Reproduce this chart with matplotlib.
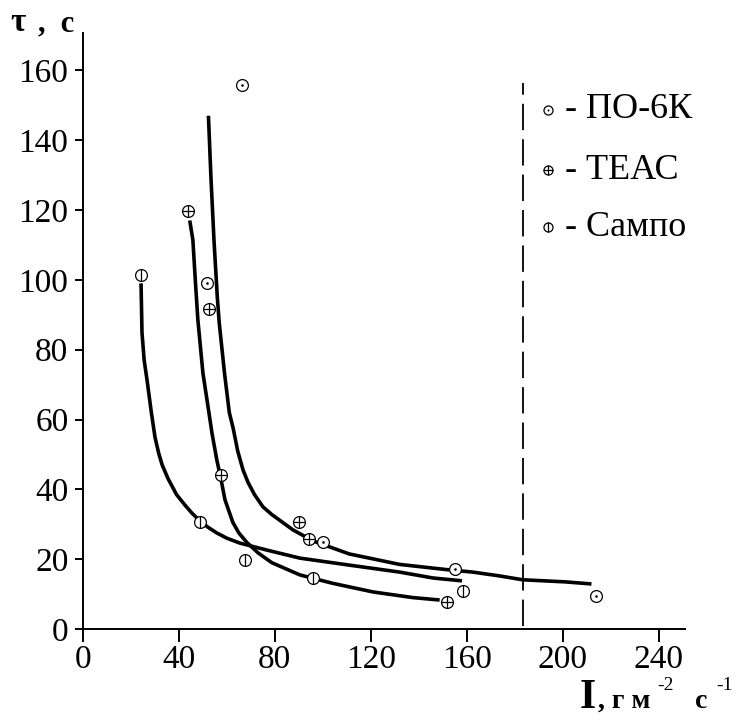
import matplotlib
matplotlib.use("Agg")
import matplotlib.pyplot as plt

plt.rcParams['font.family'] = ['Liberation Serif', 'DejaVu Serif']
plt.rcParams['lines.scale_dashes'] = False

# ---- data: measured points ----
po_x = [66.3, 51.7, 100, 155, 214]
po_y = [155.9, 99, 25, 17.2, 9.5]

teac_x = [43.75, 52.5, 57.5, 90, 94.2, 151.7]
teac_y = [119.8, 91.7, 44, 30.7, 25.8, 7.7]

sampo_x = [24.2, 48.7, 67.5, 95.8, 158.3]
sampo_y = [101.4, 30.7, 19.8, 14.6, 10.9]

# ---- fitted curves ----
po_cx = [52.3, 53.3, 54.6, 56.0, 56.8, 59.0, 61.0, 62.6, 64.5, 66.7, 68.8, 71.5, 75, 78.7, 87.5, 96, 111, 132, 151.7, 162.5, 173.7, 183.3, 201, 212]
po_cy = [147, 130, 111.5, 95, 87.7, 73.3, 62, 57.5, 51, 45.6, 42, 38.5, 35, 32.8, 28.4, 25.2, 21.5, 18.5, 17, 16.3, 15.2, 14.1, 13.5, 12.9]

teac_cx = [44.5, 45.8, 47.0, 47.9, 50, 52.5, 53.8, 55.8, 57.5, 59.2, 62.5, 65, 68.3, 73, 78.7, 90.4, 104, 121, 137.5, 148.7]
teac_cy = [117, 111.5, 98, 88.5, 73.3, 62, 56, 48.4, 43, 37, 30.5, 27.5, 24.8, 21.8, 19, 15.5, 13.1, 10.6, 9, 8.3]

sampo_cx = [24.2, 24.6, 25.5, 26.7, 28.5, 30, 31.5, 33, 35.5, 39, 42.5, 45.4, 48.7, 52, 55.8, 60, 65.4, 76.7, 90.4, 111, 132, 146, 158]
sampo_cy = [99, 84.8, 77, 71.3, 62, 55, 50.5, 47, 43, 38.5, 35.5, 33.2, 31, 29.2, 27.5, 26, 24.6, 22.6, 20.3, 18.3, 16.3, 14.6, 13.8]

limit_x = 183.3
limit_y = [1, 156.4]

xticks = [0, 40, 80, 120, 160, 200, 240]
yticks = [0, 20, 40, 60, 80, 100, 120, 140, 160]

legend_labels = ["- ПО-6К", "- ТЕАС", "- Сампо"]

W, H = 745, 727
fig = plt.figure(figsize=(W / 100, H / 100), dpi=100)
ax = fig.add_axes([83 / W, 1 - 629 / H, (685 - 83) / W, (629 - 33) / H])
ax.set_xlim(0, 251)
ax.set_ylim(0, 170.7)

for s in ['top', 'right']:
    ax.spines[s].set_visible(False)
for s in ['left', 'bottom']:
    ax.spines[s].set_linewidth(1.4)

ax.set_xticks(xticks)
ax.set_yticks(yticks)
ax.tick_params(axis='x', direction='out', length=9, width=1.4, labelsize=24, pad=2)
ax.tick_params(axis='y', direction='out', length=6, width=1.4, labelsize=24, pad=4.5)

lw = 2.6
for cx, cy in [(po_cx, po_cy), (teac_cx, teac_cy), (sampo_cx, sampo_cy)]:
    ax.plot(cx, cy, color='black', lw=lw, solid_capstyle='butt',
            solid_joinstyle='round', zorder=2)

ax.plot([limit_x, limit_x], limit_y, color='black', lw=1.3, linestyle=(0, (19, 6.5)), zorder=1)

ms = 8.5
mew = 0.9
def markers(x, y, inner, size=ms, transform=None, clip=True):
    kw = {}
    if transform is not None:
        kw['transform'] = transform
    ax.plot(x, y, 'o', ms=size, mfc='white', mec='black', mew=mew, zorder=3, clip_on=clip, **kw)
    if inner == 'dot':
        ax.plot(x, y, 'o', ms=size * 0.22, mfc='black', mec='black', mew=0, zorder=4, clip_on=clip, **kw)
    elif inner == 'plus':
        ax.plot(x, y, '+', ms=size, mec='black', mew=mew, zorder=4, clip_on=clip, **kw)
    elif inner == 'vbar':
        ax.plot(x, y, '|', ms=size, mec='black', mew=mew, zorder=4, clip_on=clip, **kw)

markers(po_x, po_y, 'dot')
markers(teac_x, teac_y, 'plus')
markers(sampo_x, sampo_y, 'vbar')

# legend (manual)
rows = [0.871, 0.770, 0.674]
kinds = ['dot', 'plus', 'vbar']
for r, k, lab in zip(rows, kinds, legend_labels):
    markers([0.772], [r], k, size=6.5, transform=ax.transAxes, clip=False)
    ax.text(0.800, r, lab, transform=ax.transAxes, fontsize=26, va='center', ha='left')

# axis labels
fig.text(10 / W, 1 - 31 / H, "τ", fontsize=24, fontweight='bold', ha='left', va='baseline')
fig.text(38 / W, 1 - 31 / H, ",  с", fontsize=22, fontweight='bold', ha='left', va='baseline')

fig.text(580 / W, 1 - 708 / H, "I", fontsize=30, fontweight='bold', ha='left', va='baseline')
fig.text(598 / W, 1 - 708 / H, ", г м", fontsize=20, fontweight='bold', ha='left', va='baseline')
fig.text(657 / W, 1 - 690 / H, "-2", fontsize=14, ha='left', va='baseline')
fig.text(695 / W, 1 - 708 / H, "с", fontsize=20, fontweight='bold', ha='left', va='baseline')
fig.text(716 / W, 1 - 690 / H, "-1", fontsize=14, ha='left', va='baseline')

fig.savefig("out.png", dpi=100)
